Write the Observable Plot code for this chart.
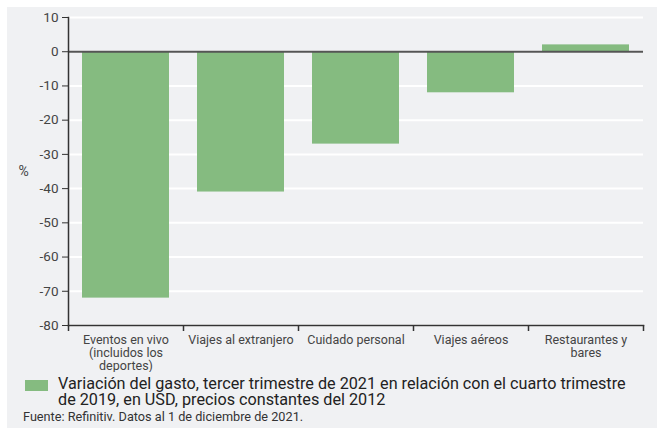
<!DOCTYPE html>
<html>
<head>
<meta charset="utf-8">
<script src="https://cdn.jsdelivr.net/npm/d3@7"></script>
<script src="https://cdn.jsdelivr.net/npm/@observablehq/plot@0.6"></script>
<style>
  html, body { margin: 0; padding: 0; background: #fff; }
  #panel { position: absolute; left: 7px; top: 7px; width: 650px; height: 421px; background: #f0f1f3; font-family: Roboto, sans-serif; }
  #legend { display: flex; align-items: flex-start; margin: 4px 0 0 18px; }
  #legend .sw { width: 23px; height: 11px; background: #85bb80; margin-top: 4px; flex: none; }
  #legend .tx { margin-left: 10px; font-size: 16.2px; line-height: 16px; color: #222; width: 574px; }
  #caption { margin: 2px 0 0 16px; font-size: 12.7px; color: #333; line-height: 14px; }
</style>
</head>
<body>
<div id="panel">
  <div id="chart"></div>
  <div id="legend"><div class="sw"></div><div class="tx" id="legendText"></div></div>
  <div id="caption"></div>
</div>
<script>
const categories = ["Eventos en vivo (incluidos los deportes)", "Viajes al extranjero", "Cuidado personal", "Viajes aéreos", "Restaurantes y bares"];
const tickLabels = ["Eventos en vivo\n(incluidos los\ndeportes)", "Viajes al extranjero", "Cuidado personal", "Viajes aéreos", "Restaurantes y\nbares"];
const values = [-72, -41, -27, -12, 2];
const yTicks = [10, 0, -10, -20, -30, -40, -50, -60, -70, -80];
const seriesName = "Variación del gasto, tercer trimestre de 2021 en relación con el cuarto trimestre de 2019, en USD, precios constantes del 2012";
const source = "Fuente: Refinitiv. Datos al 1 de diciembre de 2021.";

const data = categories.map((c, i) => ({category: c, value: values[i]}));
const W = 650, ML = 61, MR = 14;
const bw = (W - ML - MR) / categories.length;
const labelOf = Object.fromEntries(categories.map((c, i) => [c, tickLabels[i]]));

const chart = Plot.plot({
  width: W,
  height: 365,
  marginLeft: ML,
  marginRight: MR,
  marginTop: 10,
  marginBottom: 47,
  style: {background: "transparent", fontFamily: "Roboto, sans-serif", color: "#444"},
  x: {domain: categories, padding: 0, label: null},
  y: {domain: [-80, 10], label: null},
  marks: [
    Plot.ruleY(yTicks, {stroke: "#fff", strokeWidth: 2}),
    Plot.barY(data, {x: "category", y: "value", fill: "#85bb80", insetLeft: 14, insetRight: 14}),
    Plot.ruleY([0], {stroke: "#555", strokeWidth: 2}),
    Plot.frame({anchor: "left", stroke: "#333", strokeWidth: 1.5}),
    Plot.frame({anchor: "bottom", stroke: "#333", strokeWidth: 1.5}),
    Plot.ruleX(categories, {x: d => d, dx: -bw / 2, y1: -80, y2: -80, insetBottom: -6, stroke: "#333", strokeWidth: 1.5}),
    Plot.ruleX(categories.slice(-1), {x: d => d, dx: bw / 2, y1: -80, y2: -80, insetBottom: -6, stroke: "#333", strokeWidth: 1.5}),
    Plot.axisY({ticks: yTicks, tickSize: 6, tickPadding: 4, fontSize: 13.5, stroke: "#333", label: null, tickFormat: d => String(d)}),
    Plot.axisX({tickSize: 0, tickPadding: 9, fontSize: 12.5, lineHeight: 1.04, tickFormat: d => labelOf[d], label: null}),
    Plot.text(["%"], {frameAnchor: "left", dx: -50, textAnchor: "start", fontSize: 14, fill: "#444"})
  ]
});
document.getElementById("chart").appendChild(chart);
document.getElementById("legendText").textContent = seriesName;
document.getElementById("caption").textContent = source;
</script>
</body>
</html>
